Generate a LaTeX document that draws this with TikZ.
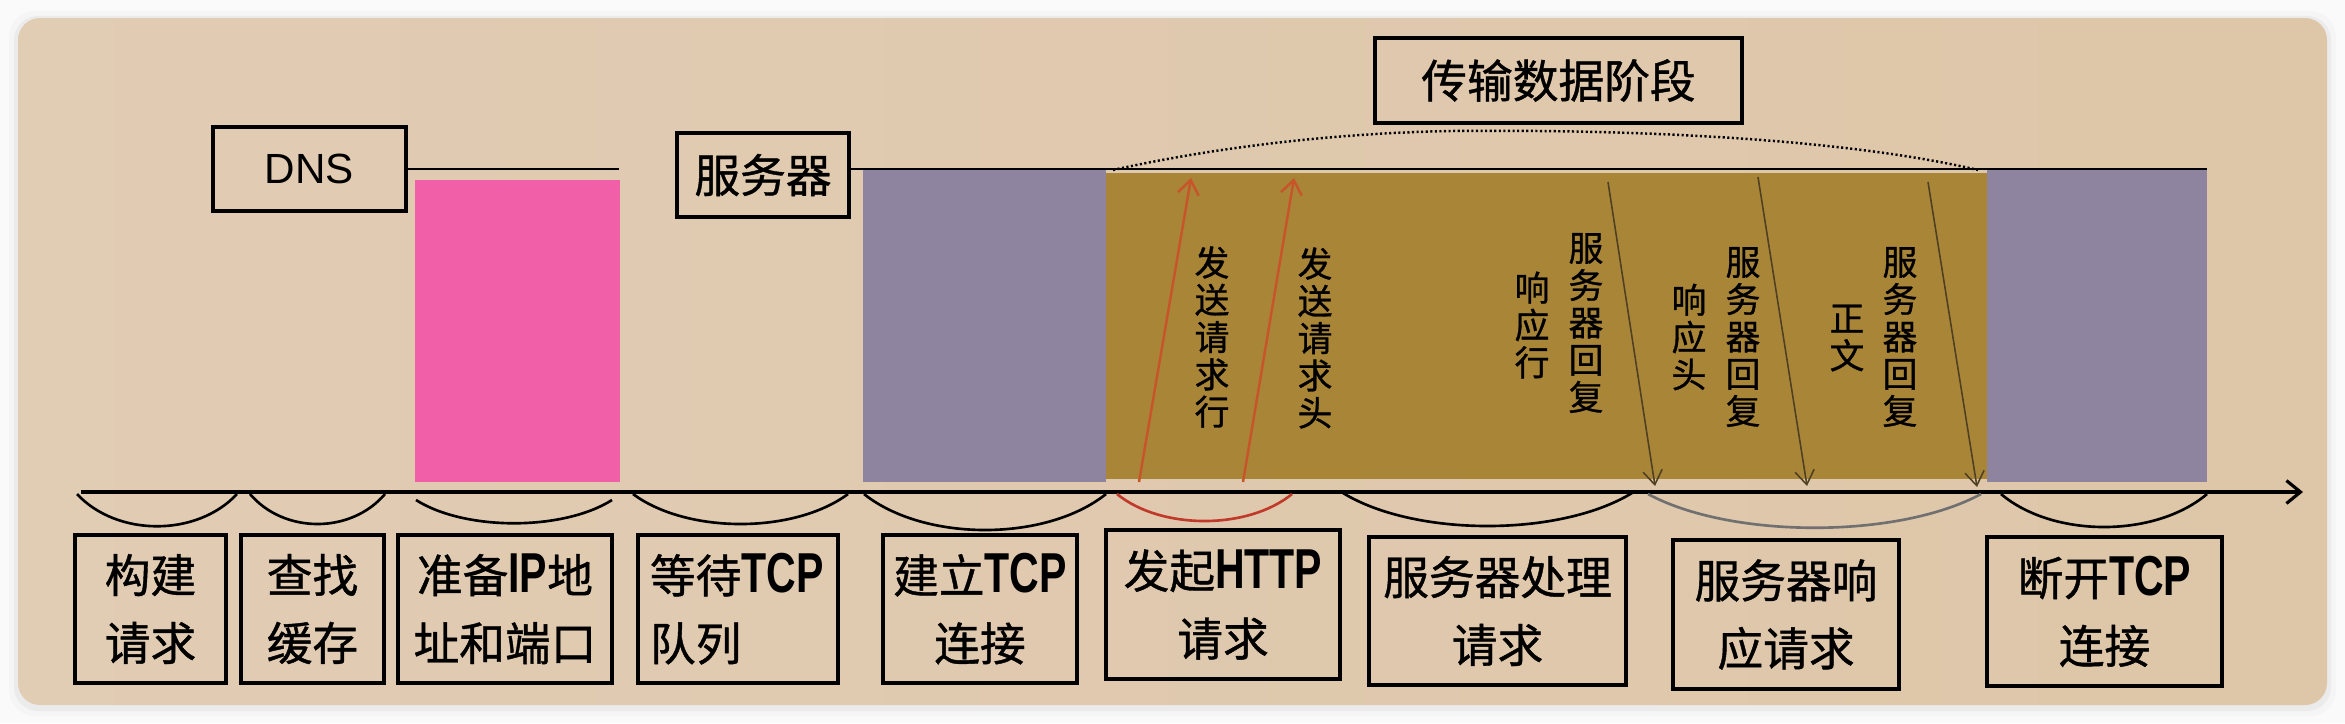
\documentclass[tikz,border=0pt]{standalone}
\usepackage{fontspec}
\setmainfont{Liberation Sans}
\newfontfamily\cjk[FakeBold=0.9]{Noto Sans CJK SC}
\newfontfamily\condb[FakeStretch=0.73]{Liberation Sans Bold}
\usetikzlibrary{arrows.meta}
\newcommand\Lat[1]{{\condb\fontsize{16}{19.3}\selectfont #1}}
\definecolor{cardL}{HTML}{E1CCB4}
\definecolor{cardR}{HTML}{DEC6A8}
\definecolor{pinkbar}{HTML}{F05FA7}
\definecolor{purplebar}{HTML}{8F849F}
\definecolor{goldbar}{HTML}{A98538}
\definecolor{redarrow}{HTML}{C8552A}
\definecolor{downarrow}{HTML}{4F4023}
\definecolor{redarc}{HTML}{C0392B}
\definecolor{grayarc}{HTML}{707070}
\tikzset{
  lbl/.style={draw=black, line width=1.1pt, inner sep=0pt, align=center,
    font=\cjk\fontsize{13}{19.3}\selectfont},
  vt/.style={inner sep=0pt, align=center, font=\cjk\fontsize{9.9}{10.6}\selectfont},
  hline/.style={line width=0.7pt, black},
  bowl/.style={line width=0.75pt, black},
  uparrow/.style={line width=0.7pt, redarrow, -{Straight Barb[length=4pt,width=6pt]}},
  dnarrow/.style={line width=0.45pt, downarrow, -{Straight Barb[length=4pt,width=5.5pt]}},
  dots/.style={line width=0.7pt, dash pattern=on 0.6pt off 0.7pt},
}
\begin{document}
\begin{tikzpicture}[x=0.01cm, y=-0.01cm]
\useasboundingbox (0,0) rectangle (2345,723);
% page and card
\fill[white!96!gray] (0,0) rectangle (2345,723);
\fill[gray!8, rounded corners=0.26cm] (9,11) rectangle (2336,716);
\fill[gray!16, rounded corners=0.24cm] (14,16) rectangle (2331,711);
\shade[left color=cardL, right color=cardR, rounded corners=0.22cm] (18,18) rectangle (2327,705);

% bars
\fill[pinkbar] (415,180) rectangle (620,482);
\fill[purplebar] (863,170) rectangle (1106,482);
\fill[goldbar] (1106,173) rectangle (1987,479);
\fill[purplebar] (1987,170) rectangle (2207,482);

% top boxes
\node[lbl, minimum width=1.93cm, minimum height=0.84cm,
  font=\fontsize{12}{14}\selectfont] (dns) at (309.5,169) {DNS};
\node[lbl, minimum width=1.72cm, minimum height=0.84cm] (srv) at (763,175) {服务器};
\node[lbl, minimum width=3.67cm, minimum height=0.85cm] (phase) at (1558.5,80.5) {传输数据阶段};

\coordinate (dnsend) at (619,169);
\coordinate (srvend) at (2207,169);
\draw[hline] (dns.east) -- (dnsend);
\draw[hline] (srv.east |- srvend) -- (srvend);

% dotted span
\coordinate (d1) at (1113,170);
\coordinate (dm) at (1450,131);
\coordinate (d2) at (1978,170);
\draw[dots] (d1) .. controls (1180,155) and (1300,134) .. (dm)
  .. controls (1650,129) and (1850,140) .. (d2);

% axis
\coordinate (ax0) at (81,492);
\coordinate (ax1) at (2303,492);
\draw[line width=0.9pt, -{Straight Barb[length=4pt,width=6.5pt]}] (ax0) -- (ax1);

% arrows inside gold
\coordinate (u1s) at (1139,482); \coordinate (u1e) at (1191,178);
\coordinate (u2s) at (1243,482); \coordinate (u2e) at (1294,178);
\draw[uparrow] (u1s) -- (u1e);
\draw[uparrow] (u2s) -- (u2e);
\coordinate (w1s) at (1608,182); \coordinate (w1e) at (1655,486);
\coordinate (w2s) at (1758,177); \coordinate (w2e) at (1807,486);
\coordinate (w3s) at (1928,182); \coordinate (w3e) at (1977,487);
\draw[dnarrow] (w1s) -- (w1e);
\draw[dnarrow] (w2s) -- (w2e);
\draw[dnarrow] (w3s) -- (w3e);

% vertical labels
\node[vt] (t1) at (1212,337) {发\\送\\请\\求\\行};
\node[vt] (t2) at (1315,338) {发\\送\\请\\求\\头};
\node[vt] (t3) at (1532,325) {响\\应\\行};
\node[vt] (t4) at (1586,323) {服\\务\\器\\回\\复};
\node[vt] (t5) at (1689,337) {响\\应\\头};
\node[vt] (t6) at (1743,337) {服\\务\\器\\回\\复};
\node[vt] (t7) at (1847,338) {正\\文};
\node[vt] (t8) at (1900,337) {服\\务\\器\\回\\复};

% bowls under the axis
\coordinate (b1l) at (77,494);   \coordinate (b1r) at (237,494);
\coordinate (b2l) at (250,494);  \coordinate (b2r) at (385,494);
\coordinate (b3l) at (416,500);  \coordinate (b3r) at (612,500);
\coordinate (b4l) at (633,494);  \coordinate (b4r) at (848,494);
\coordinate (b5l) at (864,494);  \coordinate (b5r) at (1106,494);
\coordinate (b6l) at (1117,494); \coordinate (b6r) at (1292,494);
\coordinate (b7l) at (1343,493); \coordinate (b7r) at (1632,493);
\coordinate (b8l) at (1648,494); \coordinate (b8r) at (1981,494);
\coordinate (b9l) at (2001,494); \coordinate (b9r) at (2207,494);
\draw[bowl] (b1l) .. controls +(40,43) and +(-40,43) .. (b1r);
\draw[bowl] (b2l) .. controls +(34,40) and +(-34,40) .. (b2r);
\draw[bowl] (b3l) .. controls +(49,31) and +(-49,31) .. (b3r);
\draw[bowl] (b4l) .. controls +(54,40) and +(-54,40) .. (b4r);
\draw[bowl] (b5l) .. controls +(60,48) and +(-60,48) .. (b5r);
\draw[bowl, redarc] (b6l) .. controls +(44,36) and +(-44,36) .. (b6r);
\draw[bowl] (b7l) .. controls +(72,44) and +(-72,44) .. (b7r);
\draw[bowl, grayarc] (b8l) .. controls +(83,45) and +(-83,45) .. (b8r);
\draw[bowl] (b9l) .. controls +(52,44) and +(-52,44) .. (b9r);

% stage boxes
\node[lbl, minimum width=1.51cm, minimum height=1.48cm] (s1) at (150.5,609) {构建\\请求};
\node[lbl, minimum width=1.43cm, minimum height=1.48cm] (s2) at (312.5,609) {查找\\缓存};
\node[lbl, minimum width=2.14cm, minimum height=1.48cm] (s3) at (505,609) {准备\Lat{IP}地\\址和端口};
\node[lbl, minimum width=2.00cm, minimum height=1.48cm, align=left,
  text width=1.76cm, inner xsep=0.12cm] (s4) at (738,609) {等待\Lat{TCP}\\队列};
\node[lbl, minimum width=1.94cm, minimum height=1.48cm] (s5) at (980,609) {建立\Lat{TCP}\\连接};
\node[lbl, minimum width=2.34cm, minimum height=1.49cm] (s6) at (1223,604.5) {发起\Lat{HTTP}\\请求};
\node[lbl, minimum width=2.57cm, minimum height=1.48cm] (s7) at (1497.5,611) {服务器处理\\请求};
\node[lbl, minimum width=2.26cm, minimum height=1.49cm] (s8) at (1786,614.5) {服务器响\\应请求};
\node[lbl, minimum width=2.35cm, minimum height=1.49cm] (s9) at (2104.5,611.5) {断开\Lat{TCP}\\连接};
\end{tikzpicture}
\end{document}
